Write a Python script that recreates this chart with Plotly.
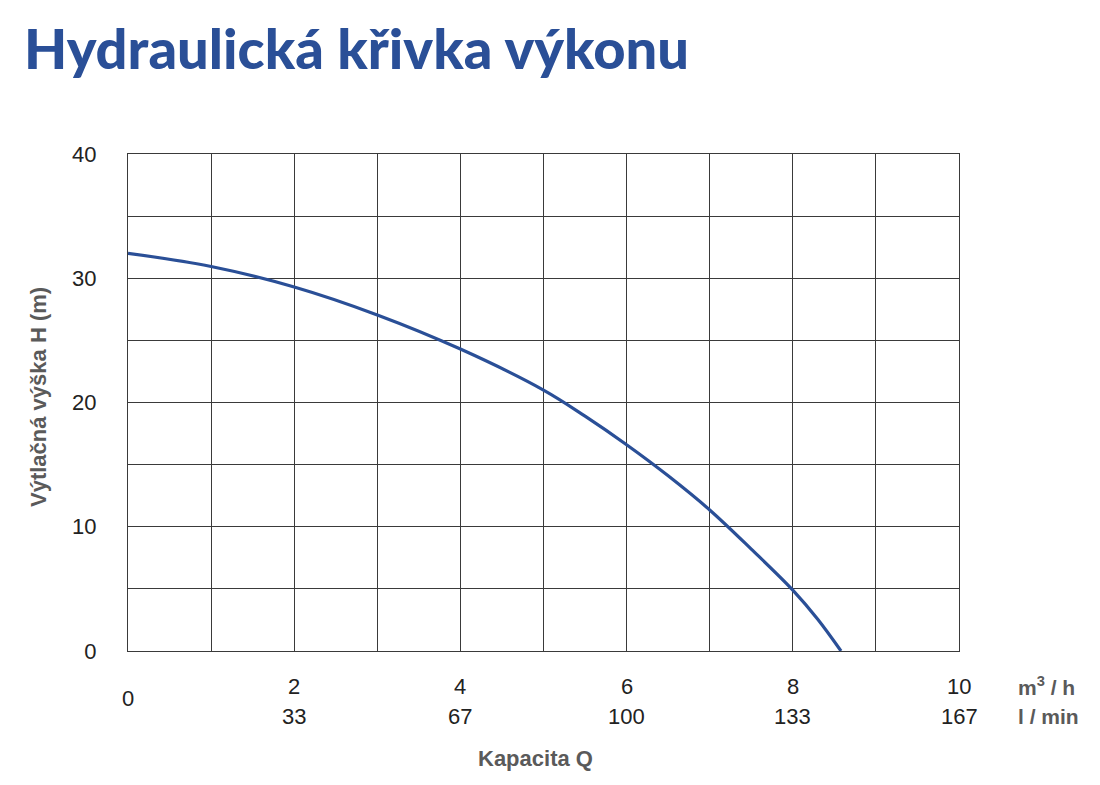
import plotly.graph_objects as go

# Data
flow_m3h = [0, 1, 2, 3, 4, 5, 5.5, 6, 6.5, 7, 7.5, 8, 8.3, 8.58]
head_m = [32, 30.95, 29.3, 27.05, 24.3, 21.0, 18.9, 16.6, 14.1, 11.35, 8.2, 4.9, 2.55, 0]

y_tickvals = [0, 10, 20, 30, 40]
y_ticktext = ["0", "10", "20", "30", "40"]
x_gridvals = [0, 1, 2, 3, 4, 5, 6, 7, 8, 9, 10]

x_label_pos = [2, 4, 6, 8, 10]
x_label_m3h = ["2", "4", "6", "8", "10"]
x_label_lmin = ["33", "67", "100", "133", "167"]

title_text = "Hydraulická křivka výkonu"
x_title = "Kapacita Q"
y_title = "Výtlačná výška H (m)"
unit_top = "m<sup>3</sup> / h"
unit_bottom = "l / min"

blue = "#2a4f97"
grid = "#3a3a3a"
gray = "#5a5a5a"

# page offset (browser body margin)
OFF = 8
L, T = 128 - OFF, 154 - OFF
PW, PH = 831, 497

fig = go.Figure()
fig.add_trace(go.Scatter(x=flow_m3h, y=head_m, mode="lines",
                         line=dict(color=blue, width=3.2, shape="spline", smoothing=1.0),
                         showlegend=False, hoverinfo="skip"))

fig.update_layout(
    width=1100, height=785,
    margin=dict(l=L, r=1100 - L - PW, t=T, b=785 - T - PH),
    paper_bgcolor="white", plot_bgcolor="white",
    showlegend=False,
    font=dict(family="Liberation Sans, Arial", color="#222"),
)

fig.update_xaxes(range=[0, 10], tickvals=x_gridvals, showticklabels=False,
                 showgrid=True, gridcolor=grid, gridwidth=1,
                 showline=True, linecolor=grid, linewidth=1, mirror=True,
                 zeroline=False, ticks="")
fig.update_yaxes(range=[0, 40], tickvals=y_tickvals, ticktext=y_ticktext,
                 showgrid=True, gridcolor=grid, gridwidth=1,
                 minor=dict(dtick=5, showgrid=True, gridcolor=grid, gridwidth=1, ticks=""),
                 showline=True, linecolor=grid, linewidth=1, mirror=True,
                 zeroline=False, ticks="", ticklabelstandoff=26,
                 tickfont=dict(size=22, color="#222", family="Liberation Sans, Arial"))


def py(px_y):
    """reference pixel y -> paper coord"""
    return (154 + PH - px_y) / PH


def px(px_x):
    return (px_x - 128) / PW


# Title
fig.add_annotation(text=title_text, xref="paper", yref="paper",
                   x=px(22), y=py(47), xanchor="left", yanchor="middle",
                   showarrow=False,
                   font=dict(family="Lato", size=56, weight=900, color=blue))

# X tick labels (two rows)
fig.add_annotation(text="0", x=0, xref="x", yref="paper", y=py(698),
                   yanchor="middle", showarrow=False,
                   font=dict(size=22, color="#222"))
for xv, t1, t2 in zip(x_label_pos, x_label_m3h, x_label_lmin):
    fig.add_annotation(text=t1, x=xv, xref="x", yref="paper", y=py(686),
                       yanchor="middle", showarrow=False, font=dict(size=22, color="#222"))
    fig.add_annotation(text=t2, x=xv, xref="x", yref="paper", y=py(716),
                       yanchor="middle", showarrow=False, font=dict(size=22, color="#222"))

# Units
fig.add_annotation(text=f"<b>{unit_top}</b>", xref="paper", yref="paper",
                   x=px(1016), y=py(686), xanchor="left", yanchor="middle",
                   showarrow=False, font=dict(size=21, color=gray))
fig.add_annotation(text=f"<b>{unit_bottom}</b>", xref="paper", yref="paper",
                   x=px(1016), y=py(716), xanchor="left", yanchor="middle",
                   showarrow=False, font=dict(size=21, color=gray))

# Axis titles
fig.add_annotation(text=f"<b>{x_title}</b>", xref="paper", yref="paper",
                   x=px(535), y=py(758), xanchor="center", yanchor="middle",
                   showarrow=False, font=dict(size=22, color=gray))
fig.add_annotation(text=f"<b>{y_title}</b>", xref="paper", yref="paper",
                   x=px(38), y=py(397), xanchor="center", yanchor="middle",
                   textangle=-90, showarrow=False, font=dict(size=22, color=gray))

fig.write_html("out.html")
